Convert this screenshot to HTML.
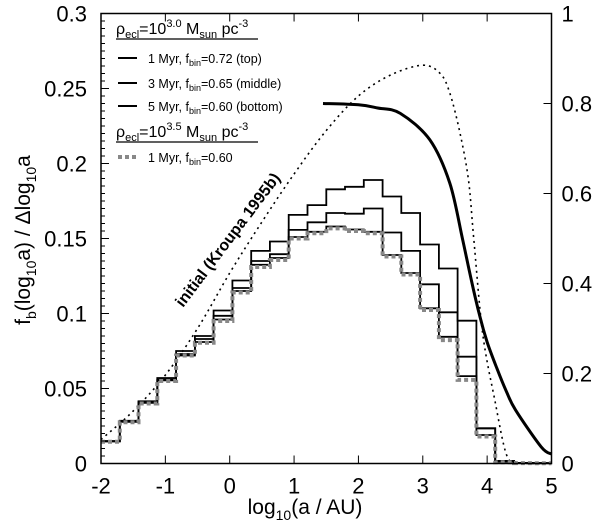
<!DOCTYPE html>
<html><head><meta charset="utf-8"><style>
body{margin:0;background:#fff;}
svg{display:block;font-family:"Liberation Sans",sans-serif;}
</style></head><body>
<svg id="chart" width="600" height="525" viewBox="0 0 600 525">
<g id="marks"></g>
<g id="axes"></g>
<g id="legend">
  <text x="116" y="34" font-size="16">ρ<tspan font-size="11" dy="4">ecl</tspan><tspan dy="-4">=10</tspan><tspan font-size="11" dy="-7">3.0</tspan><tspan dy="7"> M</tspan><tspan font-size="11" dy="4">sun</tspan><tspan dy="-4"> pc</tspan><tspan font-size="11" dy="-7">-3</tspan></text>
  <line x1="116" y1="39" x2="258" y2="39" stroke="#000" stroke-width="1.2"/>
  <line x1="118" y1="58" x2="137" y2="58" stroke="#000" stroke-width="2"/>
  <text x="148" y="63" font-size="12.5">1 Myr, f<tspan font-size="9" dy="3">bin</tspan><tspan dy="-3">=0.72 (top)</tspan></text>
  <line x1="118" y1="83" x2="137" y2="83" stroke="#000" stroke-width="2"/>
  <text x="148" y="88" font-size="12.5">3 Myr, f<tspan font-size="9" dy="3">bin</tspan><tspan dy="-3">=0.65 (middle)</tspan></text>
  <line x1="118" y1="106" x2="137" y2="106" stroke="#000" stroke-width="2"/>
  <text x="148" y="111" font-size="12.5">5 Myr, f<tspan font-size="9" dy="3">bin</tspan><tspan dy="-3">=0.60 (bottom)</tspan></text>
  <text x="116" y="137" font-size="16">ρ<tspan font-size="11" dy="4">ecl</tspan><tspan dy="-4">=10</tspan><tspan font-size="11" dy="-7">3.5</tspan><tspan dy="7"> M</tspan><tspan font-size="11" dy="4">sun</tspan><tspan dy="-4"> pc</tspan><tspan font-size="11" dy="-7">-3</tspan></text>
  <line x1="116" y1="142" x2="258" y2="142" stroke="#000" stroke-width="1.2"/>
  <line x1="118" y1="157" x2="137" y2="157" stroke="#888" stroke-width="4" stroke-dasharray="4,3"/>
  <text x="148" y="162" font-size="12.5">1 Myr, f<tspan font-size="9" dy="3">bin</tspan><tspan dy="-3">=0.60</tspan></text>
</g>
<text transform="translate(232,243) rotate(-53)" text-anchor="middle" font-size="16" font-weight="bold">initial (Kroupa 1995b)</text>
<text x="305" y="514" text-anchor="middle" font-size="21">log<tspan font-size="14" dy="6">10</tspan><tspan dy="-6">(a / AU)</tspan></text>
<text transform="translate(30,240) rotate(-90)" text-anchor="middle" font-size="21">f<tspan font-size="14" dy="6">b</tspan><tspan dy="-6">(log</tspan><tspan font-size="14" dy="6">10</tspan><tspan dy="-6">a) / Δlog</tspan><tspan font-size="14" dy="6">10</tspan><tspan dy="-6">a</tspan></text>
</svg>
<script>
// ---- data ----
const binStart = -2, binCount = 24, binWidth = 7/24;
const top1Myr = [0.0150,0.0285,0.0415,0.057,0.075,0.085,0.102,0.122,0.1417,0.148,0.1657,0.1723,0.1828,0.1845,0.189,0.178,0.167,0.146,0.130,0.0952,0.0235,0.0017,0.0004,0.0003];
const mid3Myr = [0.0148,0.028,0.041,0.056,0.073,0.083,0.0985,0.117,0.135,0.1395,0.1557,0.1608,0.167,0.1665,0.170,0.154,0.1417,0.1195,0.1008,0.0712,0.0235,0.0015,0.0004,0.0003];
const bot5Myr = [0.0147,0.0278,0.0405,0.0555,0.072,0.081,0.096,0.115,0.1325,0.137,0.151,0.1545,0.158,0.156,0.1545,0.139,0.127,0.1035,0.0845,0.0583,0.019,0.0012,0.0003,0.0002];
const denseHist = [0.0145,0.0275,0.040,0.055,0.072,0.0805,0.095,0.114,0.131,0.1357,0.150,0.1535,0.1567,0.155,0.1535,0.138,0.126,0.1023,0.0823,0.0557,0.018,0.0008,0.0003,0.0002];
const initX = [-2,-1.5,-1,-0.5,0,0.5,1,1.5,2,2.5,3,3.27,3.42,3.58,3.71,3.79,3.93,4.12,4.3,4.46,4.7,5];
const initY = [0.016,0.035,0.059,0.090,0.127,0.161,0.193,0.222,0.245,0.259,0.2655,0.260,0.247,0.220,0.189,0.151,0.087,0.042,0.006,0.001,0,0];
const fracX = [1.45,2,2.3,2.65,3.11,3.42,3.62,3.75,3.89,4.0,4.15,4.3,4.44,4.84,5];
const fracY = [0.80,0.797,0.79,0.778,0.719,0.623,0.497,0.41,0.325,0.27,0.212,0.16,0.119,0.037,0.021];
const xTicks = [-2,-1,0,1,2,3,4,5];
const yTicks = [0,0.05,0.1,0.15,0.2,0.25,0.3];
const yTickLabels = ["0","0.05","0.1","0.15","0.2","0.25","0.3"];
const y2Ticks = [0,0.2,0.4,0.6,0.8,1];
const y2TickLabels = ["0","0.2","0.4","0.6","0.8","1"];

const L=101, R=551.5, T=13.5, B=463.5;
const xs = v => L + (v+2)/7*(R-L);
const ys = v => B - v/0.3*(B-T);
const ys2 = v => B - v*(B-T);
const NS="http://www.w3.org/2000/svg";
const marks=document.getElementById('marks'), axes=document.getElementById('axes');
function mk(tag, parent, attrs){const e=document.createElementNS(NS,tag);for(const k in attrs)e.setAttribute(k,attrs[k]);parent.appendChild(e);return e;}

function histPath(vals){
  let d='';
  for(let k=0;k<vals.length;k++){
    const x0=xs(binStart+k*binWidth), x1=xs(binStart+(k+1)*binWidth), y=ys(vals[k]);
    d += (k===0?'M':'L')+x0.toFixed(1)+','+y.toFixed(1)+'L'+x1.toFixed(1)+','+y.toFixed(1);
  }
  return d;
}
function smooth(px,py){
  const p=px.map((x,i)=>[x,py[i]]);
  let d='M'+p[0][0].toFixed(1)+','+p[0][1].toFixed(1);
  for(let i=0;i<p.length-1;i++){
    const p0=p[Math.max(0,i-1)],p1=p[i],p2=p[i+1],p3=p[Math.min(p.length-1,i+2)];
    const c1=[p1[0]+(p2[0]-p0[0])/6,p1[1]+(p2[1]-p0[1])/6];
    const c2=[p2[0]-(p3[0]-p1[0])/6,p2[1]-(p3[1]-p1[1])/6];
    d+='C'+c1.map(v=>v.toFixed(1)).join(',')+' '+c2.map(v=>v.toFixed(1)).join(',')+' '+p2[0].toFixed(1)+','+p2[1].toFixed(1);
  }
  return d;
}

let e;
e=mk('path',marks,{d:smooth(initX.map(xs),initY.map(ys)),fill:'none',stroke:'#000','stroke-width':1.6,'stroke-dasharray':'2,4'});


e=mk('path',marks,{d:smooth(fracX.map(xs),fracY.map(ys2)),fill:'none',stroke:'#000','stroke-width':3});


e=mk('path',marks,{d:histPath(top1Myr),fill:'none',stroke:'#000','stroke-width':1.8});


e=mk('path',marks,{d:histPath(mid3Myr),fill:'none',stroke:'#000','stroke-width':1.8});


e=mk('path',marks,{d:histPath(bot5Myr),fill:'none',stroke:'#000','stroke-width':1.8});


e=mk('path',marks,{d:histPath(denseHist),fill:'none',stroke:'#888','stroke-width':4,'stroke-dasharray':'4,3'});



e=mk('rect',axes,{x:L,y:T,width:R-L,height:B-T,fill:'none',stroke:'#000','stroke-width':1.5});


for(let i=0;i<=60;i++){
  const v=i*0.005, y=ys(v), major=(i%10===0);
  e=mk('line',axes,{x1:L,y1:y,x2:L+(major?8:4),y2:y,stroke:'#000','stroke-width':1});
  
  
}
yTicks.forEach((v,i)=>{
  const t=mk('text',axes,{x:L-14,y:ys(v)+8,'text-anchor':'end','font-size':22});
  t.textContent=yTickLabels[i];
  
  
});
y2Ticks.forEach((v,i)=>{
  const y=ys2(v);
  e=mk('line',axes,{x1:R-8,y1:y,x2:R,y2:y,stroke:'#000','stroke-width':1});
  
  
  const t=mk('text',axes,{x:R+10,y:y+8,'font-size':22});
  t.textContent=y2TickLabels[i];
  
  
});
xTicks.forEach(v=>{
  const x=xs(v);
  e=mk('line',axes,{x1:x,y1:B,x2:x,y2:B-8,stroke:'#000','stroke-width':1});
  
  
  e=mk('line',axes,{x1:x,y1:T,x2:x,y2:T+8,stroke:'#000','stroke-width':1});
  
  
  const t=mk('text',axes,{x:x,y:B+30,'text-anchor':'middle','font-size':22});
  t.textContent=String(v);
  
  
});
</script>
</body></html>
